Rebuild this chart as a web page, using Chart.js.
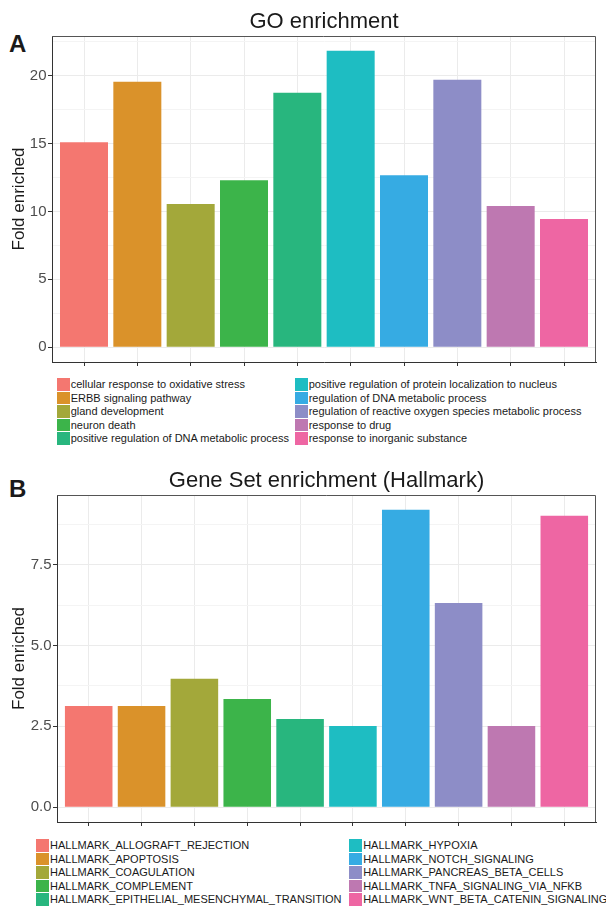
<!DOCTYPE html>
<html>
<head>
<meta charset="utf-8">
<script src="https://cdn.jsdelivr.net/npm/chart.js@4/dist/chart.umd.min.js"></script>
<style>
  body { margin: 0; background: #fff; width: 606px; height: 906px; position: relative; overflow: hidden;
         font-family: "Liberation Sans", Arial, sans-serif; }
  .tag { position: absolute; left: 9px; font-size: 24px; font-weight: bold; line-height: 24px; color: #1a1a1a; }
  canvas { position: absolute; left: 0; }
  .legend { position: absolute; display: grid; grid-template-rows: repeat(5, 13.6px); grid-auto-flow: column;
            font-size: 11px; line-height: 13.6px; color: #1a1a1a; }
  .legend .item { position: relative; padding-left: 13.7px; white-space: nowrap; }
  .legend .sw { position: absolute; left: 0; top: 0; width: 12.5px; height: 12.6px; }
</style>
</head>
<body>
<div class="tag" style="top:31.7px">A</div>
<div class="tag" style="top:476.7px">B</div>
<canvas id="goChart" width="606" height="372" style="top:0"></canvas>
<canvas id="hmChart" width="606" height="372" style="top:460px"></canvas>
<div class="legend" id="goLegend" style="left:57px;top:378px;grid-template-columns:238px auto"></div>
<div class="legend" id="hmLegend" style="left:36.3px;top:839px;grid-template-columns:313.2px auto"></div>

<script>
// bar colours (ggplot hue, as printed)
const barColors = ["#f47770", "#da922a", "#a3a83a", "#3cb44a", "#28b67e",
                   "#1ebdc2", "#36abe3", "#8d8dc7", "#be78b1", "#ee66a3"];

// panel A
const goTerms = [
  "cellular response to oxidative stress",
  "ERBB signaling pathway",
  "gland development",
  "neuron death",
  "positive regulation of DNA metabolic process",
  "positive regulation of protein localization to nucleus",
  "regulation of DNA metabolic process",
  "regulation of reactive oxygen species metabolic process",
  "response to drug",
  "response to inorganic substance"
];
const goFold = [15.1, 19.55, 10.55, 12.3, 18.75, 21.83, 12.67, 19.7, 10.4, 9.45];
const goTicks = [0, 5, 10, 15, 20];
const goTickLabels = ["0", "5", "10", "15", "20"];
const goMinor = [2.5, 7.5, 12.5, 17.5, 22.5];

// panel B
const hmSets = [
  "HALLMARK_ALLOGRAFT_REJECTION",
  "HALLMARK_APOPTOSIS",
  "HALLMARK_COAGULATION",
  "HALLMARK_COMPLEMENT",
  "HALLMARK_EPITHELIAL_MESENCHYMAL_TRANSITION",
  "HALLMARK_HYPOXIA",
  "HALLMARK_NOTCH_SIGNALING",
  "HALLMARK_PANCREAS_BETA_CELLS",
  "HALLMARK_TNFA_SIGNALING_VIA_NFKB",
  "HALLMARK_WNT_BETA_CATENIN_SIGNALING"
];
const hmFold = [3.13, 3.13, 3.97, 3.35, 2.73, 2.51, 9.2, 6.32, 2.51, 9.02];
const hmTicks = [0, 2.5, 5, 7.5];
const hmTickLabels = ["0.0", "2.5", "5.0", "7.5"];
const hmMinor = [1.25, 3.75, 6.25, 8.75];

Chart.defaults.font.family = '"Liberation Sans", Arial, sans-serif';

// top and right sides of the panel border
const panelBorder = {
  id: "panelBorder",
  afterDraw(chart) {
    const { ctx, chartArea: a } = chart;
    ctx.save();
    ctx.strokeStyle = "#555";
    ctx.lineWidth = 1;
    ctx.beginPath();
    ctx.moveTo(a.left, a.top + 0.5);
    ctx.lineTo(a.right - 0.5, a.top + 0.5);
    ctx.lineTo(a.right - 0.5, a.bottom);
    ctx.stroke();
    ctx.restore();
  }
};

function makeChart(id, names, values, ticks, tickLabels, minor, title, yWidth, titlePad) {
  const dmax = Math.max(...values);
  const n = names.length;
  return new Chart(document.getElementById(id), {
    type: "bar",
    data: {
      datasets: [{
        label: title,
        data: values.map((v, i) => ({ x: i, y: v })),
        backgroundColor: barColors,
        borderWidth: 0,
        barPercentage: 0.9,
        categoryPercentage: 1.0
      }]
    },
    options: {
      responsive: false,
      animation: false,
      layout: { padding: { left: 0, right: 10, top: 0, bottom: 6 } },
      plugins: {
        legend: { display: false },
        tooltip: { enabled: false },
        title: {
          display: true,
          text: title,
          fullSize: false,
          color: "#1a1a1a",
          font: { size: 22, weight: "normal", lineHeight: 1 },
          padding: titlePad
        }
      },
      scales: {
        x: {
          type: "linear",
          offset: false,
          min: -0.6,
          max: n - 1 + 0.6,
          afterBuildTicks: (s) => { s.ticks = names.map((_, i) => ({ value: i })); },
          ticks: { display: false },
          grid: { color: "#ebebeb", tickColor: "#333", tickLength: 4, offset: false },
          border: { color: "#333" },
          afterFit: (s) => { s.height = 4; s.paddingLeft = 0; s.paddingRight = 0; }
        },
        y: {
          // ggplot's default 5% expansion on both ends
          min: -0.05 * dmax,
          max: 1.05 * dmax,
          afterBuildTicks: (s) => {
            s.ticks = ticks.map(v => ({ value: v, minor: false }))
              .concat(minor.map(v => ({ value: v, minor: true })))
              .sort((a, b) => a.value - b.value);
          },
          ticks: {
            autoSkip: false,
            color: "#4d4d4d",
            font: { size: 15 },
            padding: 1.5,
            callback: (v, i, t) => t[i].minor ? "" : tickLabels[ticks.indexOf(v)]
          },
          grid: {
            color: (c) => c.tick && c.tick.minor ? "#f4f4f4" : "#ebebeb",
            tickColor: (c) => c.tick && c.tick.minor ? "rgba(0,0,0,0)" : "#333",
            tickLength: 4
          },
          border: { color: "#333" },
          title: {
            display: true,
            text: "Fold enriched",
            color: "#1a1a1a",
            font: { size: 17, lineHeight: 1 },
            padding: { top: 10.5, bottom: 0 }
          },
          afterFit: (s) => { s.width = yWidth; s.paddingTop = 0; s.paddingBottom = 0; }
        }
      }
    },
    plugins: [panelBorder]
  });
}

function makeLegend(id, names) {
  const box = document.getElementById(id);
  names.forEach((name, i) => {
    const item = document.createElement("div");
    item.className = "item";
    item.innerHTML = '<span class="sw" style="background:' + barColors[i] + '"></span>' + name;
    box.appendChild(item);
  });
}

makeChart("goChart", goTerms, goFold, goTicks, goTickLabels, goMinor,
          "GO enrichment", 52, { top: 11.4, bottom: 2.6 });
makeChart("hmChart", hmSets, hmFold, hmTicks, hmTickLabels, hmMinor,
          "Gene Set enrichment (Hallmark)", 57, { top: 10.4, bottom: 2.6 });
makeLegend("goLegend", goTerms);
makeLegend("hmLegend", hmSets);
</script>
</body>
</html>
